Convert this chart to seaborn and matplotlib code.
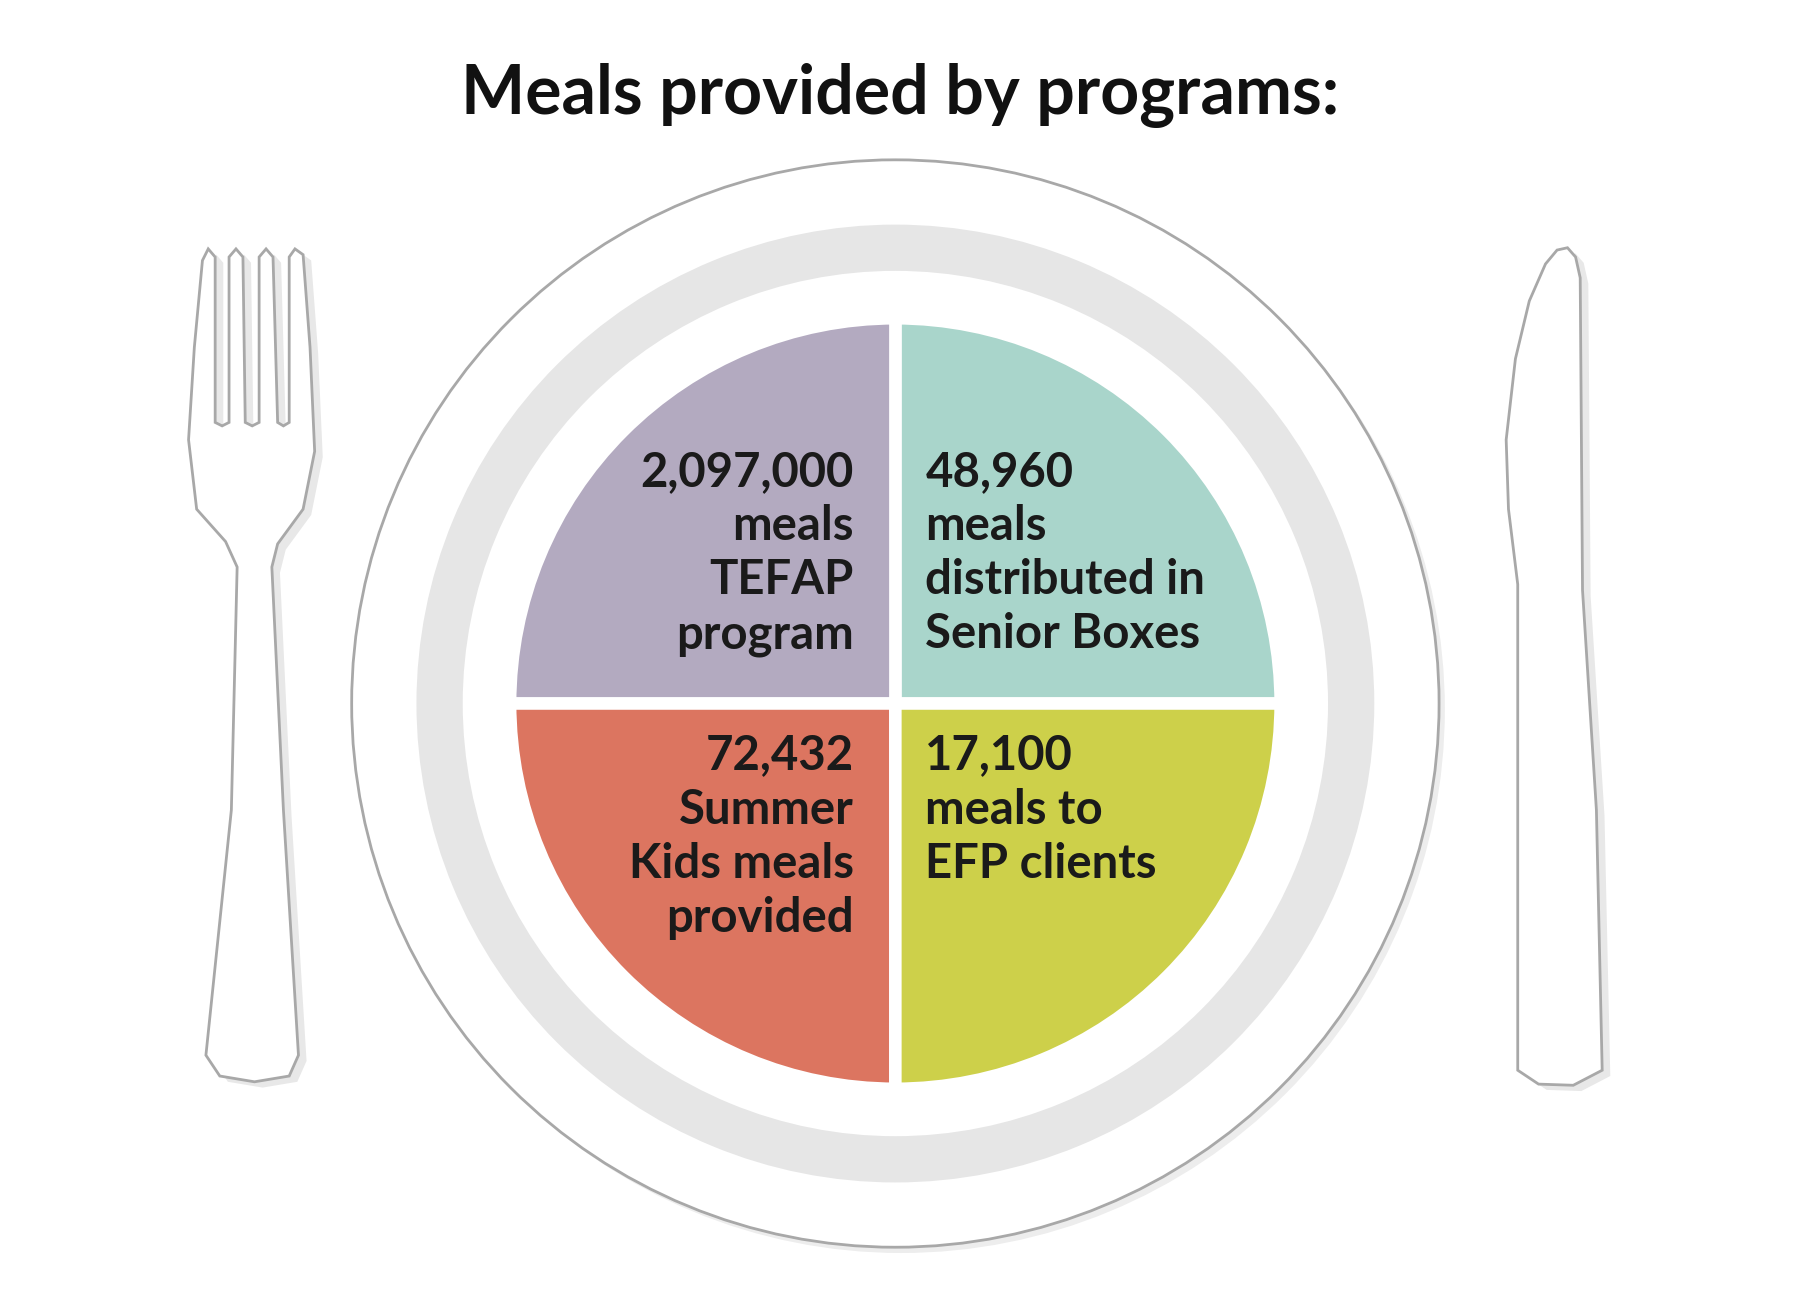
import matplotlib
matplotlib.use("Agg")
import matplotlib.pyplot as plt
from matplotlib.patches import Polygon, Circle, Wedge
import seaborn as sns

sns.set_style("white")

title = "Meals provided by programs:"
# quadrants (counter-clockwise from upper right)
programs = ["Senior Boxes", "TEFAP", "Summer Kids", "EFP"]
meals = ["48,960", "2,097,000", "72,432", "17,100"]
labels = [
    "48,960\nmeals\ndistributed in\nSenior Boxes",
    "2,097,000\nmeals\nTEFAP\nprogram",
    "72,432\nSummer\nKids meals\nprovided",
    "17,100\nmeals to\nEFP clients",
]
shares = [1, 1, 1, 1]  # plate drawn as equal quadrants
colors = ["#A9D5CB", "#B3AAC0", "#DC7560", "#CDD04A"]

W, H = 1556, 1120
fig = plt.figure(figsize=(18, 12.96), dpi=100)
ax = fig.add_axes([0, 0, 1, 1])

def Y(y):
    return H - y

def poly(pts, **kw):
    return Polygon([(x, Y(y)) for x, y in pts], closed=True, **kw)

cx, cy = 774, 608
ax.add_patch(Circle((cx + 5, Y(cy + 5)), 470, facecolor="#EDEDED", edgecolor="none", zorder=1))
ax.add_patch(Circle((cx, Y(cy)), 470, facecolor="white", edgecolor="#A8A8A8", lw=2, zorder=2))
ax.add_patch(Wedge((cx, Y(cy)), 414, 0, 360, width=40, facecolor="#E6E6E6", edgecolor="none", zorder=3))

wedges, _ = ax.pie(shares, colors=colors, startangle=0, counterclock=True,
                   center=(cx, Y(cy)), radius=333,
                   wedgeprops=dict(edgecolor="white", linewidth=9))
for w in wedges:
    w.set_zorder(4)

fork = [(178,912),(190,930),(220,935),(250,930),(258,912),(245,700),(235,490),(240,470),
        (262,440),(272,390),(268,300),(262,220),(255,215),(250,222),(250,365),(245,368),
        (240,365),(236,222),(230,215),(224,222),(224,365),(218,368),(212,365),(210,222),
        (204,215),(198,222),(198,365),(192,368),(186,365),(186,222),(180,215),(175,225),
        (168,300),(163,380),(170,440),(195,468),(205,490),(200,700)]
knife = [(1312,925),(1330,937),(1360,938),(1385,925),(1380,700),(1368,510),(1366,240),
         (1362,222),(1355,214),(1346,216),(1336,228),(1322,260),(1310,310),(1302,380),
         (1304,440),(1312,505)]
for shape in (fork, knife):
    ax.add_patch(poly([(x + 7, y + 5) for x, y in shape], facecolor="#E8E8E8", edgecolor="none", zorder=1))
    ax.add_patch(poly(shape, facecolor="white", edgecolor="#A8A8A8", lw=2, zorder=2))

font = "Lato"
ax.text(778, Y(82), title, ha="center", va="center", fontsize=49, fontweight="bold",
        family=font, color="#111111", zorder=6)

pos = [(800, 410, "left"), (738, 410, "right"), (738, 655, "right"), (800, 655, "left")]
for (x, y, ha), lab in zip(pos, labels):
    ax.text(x, Y(y) + 21, lab, ha=ha, va="top", fontsize=34, fontweight="bold",
            family=font, color="#1A1A1A", linespacing=1.28, zorder=6)

ax.set_xlim(0, W)
ax.set_ylim(0, H)
ax.set_aspect("equal")
ax.axis("off")
fig.savefig("out.png", dpi=100, facecolor="white")
